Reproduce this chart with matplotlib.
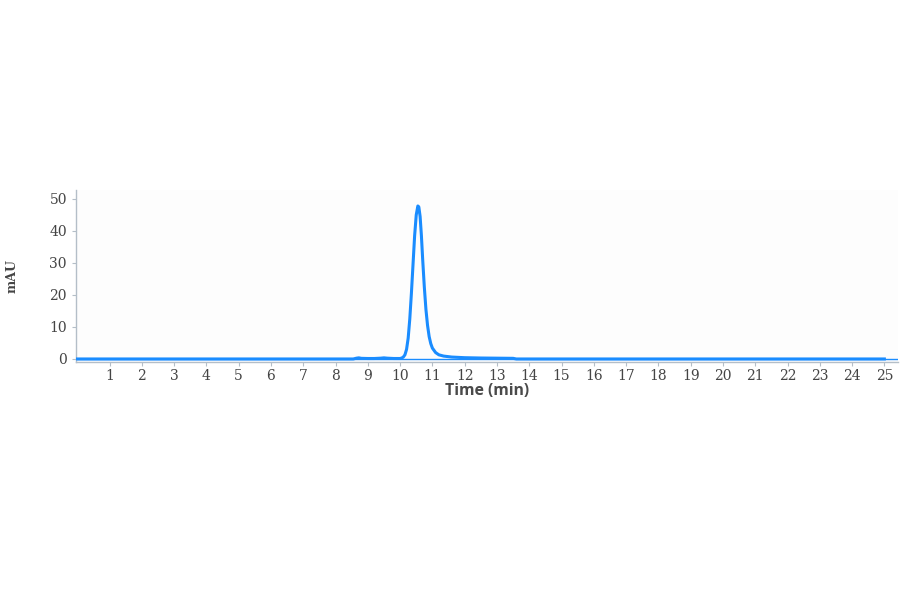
import matplotlib
matplotlib.use("Agg")
import matplotlib.pyplot as plt

# chromatogram trace (time in min, absorbance in mAU)
time_min = [0.0, 8.55, 8.65, 8.72, 8.8, 9.0, 9.2, 9.4, 9.5, 9.6, 9.8, 10.0, 10.05, 10.10,
            10.15, 10.20, 10.25, 10.30, 10.35, 10.40, 10.45, 10.50, 10.55, 10.58,
            10.62, 10.66, 10.70, 10.75, 10.80, 10.85, 10.90, 10.95, 11.00, 11.10,
            11.20, 11.35, 11.60, 12.00, 12.50, 13.00, 13.50, 13.60, 25.0]
mau = [0.0, 0.0, 0.25, 0.35, 0.2, 0.15, 0.15, 0.25, 0.35, 0.25, 0.15, 0.15, 0.3, 0.6,
       1.3, 3.0, 6.5, 12.5, 20.5, 29.5, 38.5, 45.0, 47.8, 47.5,
       44.5, 38.5, 31.0, 22.5, 15.5, 10.5, 7.0, 4.8, 3.4, 2.0,
       1.3, 0.9, 0.6, 0.4, 0.3, 0.25, 0.2, 0.0, 0.0]

x_ticks = list(range(1, 26))
y_ticks = [0, 10, 20, 30, 40, 50]

fig = plt.figure(figsize=(9, 5.94), dpi=100)
fig.patch.set_facecolor("white")
ax = fig.add_axes([0.0844, 0.3906, 0.9133, 0.2896])
ax.set_facecolor("#fdfdfd")

ax.axhline(0, color="#1a8cff", lw=1.0, zorder=2)
ax.plot(time_min, mau, color="#1a8cff", lw=2.2, zorder=3)

ax.set_xlim(-0.04, 25.42)
ax.set_ylim(-0.94, 52.8)
ax.set_xticks(x_ticks)
ax.set_yticks(y_ticks)

for s in ["top", "right"]:
    ax.spines[s].set_visible(False)
for s in ["left", "bottom"]:
    ax.spines[s].set_color("#b4bec8")
    ax.spines[s].set_linewidth(1.0)

ax.tick_params(axis="both", colors="#b4bec8", length=3, width=0.8,
               labelcolor="#444444", labelsize=10)
ax.tick_params(axis="x", pad=2)
for lbl in ax.get_xticklabels() + ax.get_yticklabels():
    lbl.set_family("DejaVu Serif")

ax.set_xlabel("Time (min)", fontsize=11.3, fontweight="bold", color="#4a4a4a",
              family="Open Sans", labelpad=0)
ax.set_ylabel("mAU", fontsize=9, fontweight="bold", color="#444444",
              family="DejaVu Serif", labelpad=22)

fig.savefig("out.png", dpi=100)
